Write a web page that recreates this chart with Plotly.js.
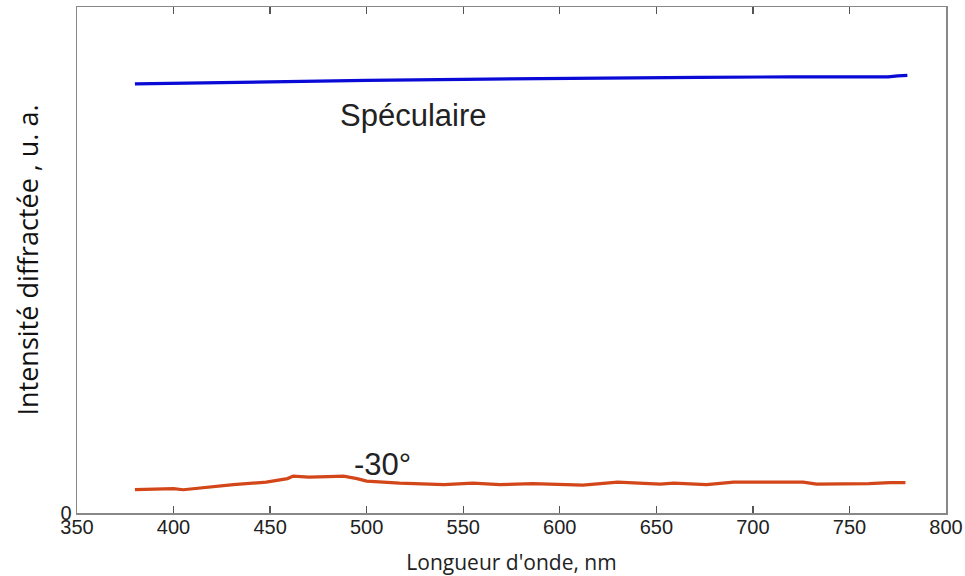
<!DOCTYPE html>
<html>
<head>
<meta charset="utf-8">
<script src="https://cdn.plot.ly/plotly-3.0.1.min.js"></script>
<style>html,body{margin:0;padding:0;background:#fff;}#chart{width:965px;height:576px;}</style>
</head>
<body>
<div id="chart"></div>
<script>
// Wavelength (nm) and intensity (arbitrary units, 0-100 scale)
const specWavelength = [380, 397, 417, 440, 470, 500, 550, 600, 640, 672, 720, 770, 775, 780];
const specIntensity  = [84.8, 84.9, 85.1, 85.2, 85.4, 85.5, 85.7, 85.9, 86.0, 86.1, 86.2, 86.2, 86.4, 86.5];

const m30Wavelength = [380, 390, 400, 405, 414, 431, 448, 459, 462, 470, 480, 488, 495, 500, 517, 530, 540, 555, 569, 586, 600, 612, 630, 652, 659, 676, 690, 710, 726, 733, 749, 760, 771, 779];
const m30Intensity  = [4.6, 4.7, 4.8, 4.6, 5.0, 5.6, 6.1, 6.8, 7.3, 7.1, 7.2, 7.3, 6.8, 6.3, 5.9, 5.7, 5.6, 5.9, 5.6, 5.8, 5.7, 5.5, 6.1, 5.7, 5.9, 5.6, 6.1, 6.1, 6.1, 5.7, 5.7, 5.8, 6.0, 6.0];

const xTicks = [350, 400, 450, 500, 550, 600, 650, 700, 750, 800];
const yTicks = [0];
const labelSpec = "Spéculaire";
const labelM30 = "-30°";

const traces = [
  {x: specWavelength, y: specIntensity, mode: 'lines', line: {color: '#0a0ad6', width: 3.2}, hoverinfo: 'skip'},
  {x: m30Wavelength, y: m30Intensity, mode: 'lines', line: {color: '#d2461a', width: 3.2}, hoverinfo: 'skip'}
];

const layout = {
  width: 965, height: 576,
  margin: {l: 77, r: 19, t: 7, b: 63},
  paper_bgcolor: '#fff', plot_bgcolor: '#fff',
  showlegend: false,
  font: {family: 'Liberation Sans, Arial, sans-serif', color: '#222'},
  xaxis: {
    range: [350, 800], tickvals: xTicks, ticktext: xTicks.map(String),
    ticks: 'inside', ticklen: 7, tickwidth: 1.3, tickcolor: '#555',
    ticklabelstandoff: -5,
    showline: true, linecolor: '#888', linewidth: 1.5, mirror: 'ticks',
    showgrid: false, zeroline: false,
    tickfont: {size: 20, color: '#222', family: 'Liberation Sans, Arial, sans-serif'},
    title: {text: "Longueur d'onde, nm", font: {size: 21, family: 'Open Sans, sans-serif', color: '#222'}, standoff: 20}
  },
  yaxis: {
    range: [0, 100], tickvals: yTicks, ticktext: ['0'],
    ticks: '', showline: true, linecolor: '#888', linewidth: 1.5, mirror: true,
    showgrid: false, zeroline: false,
    tickfont: {size: 20, color: '#222', family: 'Liberation Sans, Arial, sans-serif'},
    title: {text: "Intensité diffractée , u. a.", font: {size: 27, family: 'Open Sans, sans-serif', color: '#111'}, standoff: 14}
  },
  annotations: [
    {x: 524, y: 78.6, xref: 'x', yref: 'y', text: labelSpec, showarrow: false, font: {size: 31, family: 'Liberation Sans, Arial, sans-serif', color: '#222'}},
    {x: 508, y: 9.6, xref: 'x', yref: 'y', text: labelM30, showarrow: false, font: {size: 31, family: 'Liberation Sans, Arial, sans-serif', color: '#222'}}
  ]
};

Plotly.newPlot('chart', traces, layout, {displayModeBar: false, staticPlot: true});
</script>
</body>
</html>
